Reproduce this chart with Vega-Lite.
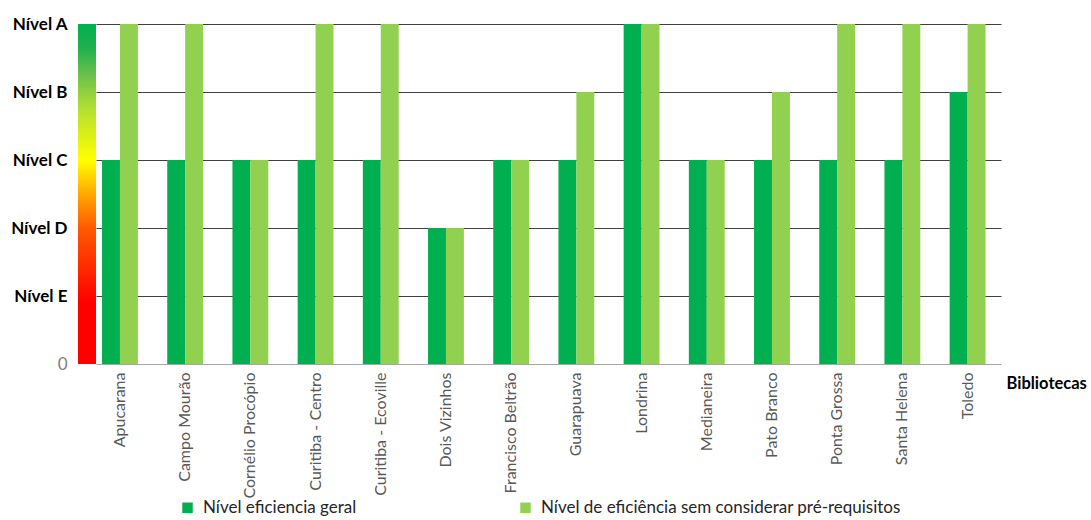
{
  "$schema": "https://vega.github.io/schema/vega-lite/v6.json",
  "padding": {"left": 10, "top": 15, "right": 2, "bottom": 2},
  "background": "white",
  "config": {"font": "Lato", "view": {"stroke": null}, "concat": {"spacing": 0}},
  "datasets": {
    "escala": [{"g": "escala", "nivel": 5}],
    "dados": [
      {"biblioteca": "Apucarana", "serie": "Nível eficiencia geral", "valor": 3},
      {"biblioteca": "Apucarana", "serie": "Nível de eficiência sem considerar pré-requisitos", "valor": 5},
      {"biblioteca": "Campo Mourão", "serie": "Nível eficiencia geral", "valor": 3},
      {"biblioteca": "Campo Mourão", "serie": "Nível de eficiência sem considerar pré-requisitos", "valor": 5},
      {"biblioteca": "Cornélio Procópio", "serie": "Nível eficiencia geral", "valor": 3},
      {"biblioteca": "Cornélio Procópio", "serie": "Nível de eficiência sem considerar pré-requisitos", "valor": 3},
      {"biblioteca": "Curitiba - Centro", "serie": "Nível eficiencia geral", "valor": 3},
      {"biblioteca": "Curitiba - Centro", "serie": "Nível de eficiência sem considerar pré-requisitos", "valor": 5},
      {"biblioteca": "Curitiba - Ecoville", "serie": "Nível eficiencia geral", "valor": 3},
      {"biblioteca": "Curitiba - Ecoville", "serie": "Nível de eficiência sem considerar pré-requisitos", "valor": 5},
      {"biblioteca": "Dois Vizinhos", "serie": "Nível eficiencia geral", "valor": 2},
      {"biblioteca": "Dois Vizinhos", "serie": "Nível de eficiência sem considerar pré-requisitos", "valor": 2},
      {"biblioteca": "Francisco Beltrão", "serie": "Nível eficiencia geral", "valor": 3},
      {"biblioteca": "Francisco Beltrão", "serie": "Nível de eficiência sem considerar pré-requisitos", "valor": 3},
      {"biblioteca": "Guarapuava", "serie": "Nível eficiencia geral", "valor": 3},
      {"biblioteca": "Guarapuava", "serie": "Nível de eficiência sem considerar pré-requisitos", "valor": 4},
      {"biblioteca": "Londrina", "serie": "Nível eficiencia geral", "valor": 5},
      {"biblioteca": "Londrina", "serie": "Nível de eficiência sem considerar pré-requisitos", "valor": 5},
      {"biblioteca": "Medianeira", "serie": "Nível eficiencia geral", "valor": 3},
      {"biblioteca": "Medianeira", "serie": "Nível de eficiência sem considerar pré-requisitos", "valor": 3},
      {"biblioteca": "Pato Branco", "serie": "Nível eficiencia geral", "valor": 3},
      {"biblioteca": "Pato Branco", "serie": "Nível de eficiência sem considerar pré-requisitos", "valor": 4},
      {"biblioteca": "Ponta Grossa", "serie": "Nível eficiencia geral", "valor": 3},
      {"biblioteca": "Ponta Grossa", "serie": "Nível de eficiência sem considerar pré-requisitos", "valor": 5},
      {"biblioteca": "Santa Helena", "serie": "Nível eficiencia geral", "valor": 3},
      {"biblioteca": "Santa Helena", "serie": "Nível de eficiência sem considerar pré-requisitos", "valor": 5},
      {"biblioteca": "Toledo", "serie": "Nível eficiencia geral", "valor": 4},
      {"biblioteca": "Toledo", "serie": "Nível de eficiência sem considerar pré-requisitos", "valor": 5}
    ]
  },
  "hconcat": [
    {
      "width": 18,
      "height": 340,
      "data": {"name": "escala"},
      "mark": {
        "type": "bar",
        "color": {
          "gradient": "linear",
          "x1": 0, "y1": 1, "x2": 0, "y2": 0,
          "stops": [
            {"offset": 0, "color": "#FF0000"},
            {"offset": 0.18, "color": "#FF0000"},
            {"offset": 0.4, "color": "#FF5A00"},
            {"offset": 0.5, "color": "#FFA800"},
            {"offset": 0.6, "color": "#FFFF00"},
            {"offset": 0.75, "color": "#B4E030"},
            {"offset": 0.85, "color": "#6CC04A"},
            {"offset": 0.93, "color": "#1FB050"},
            {"offset": 1, "color": "#00B050"}
          ]
        }
      },
      "encoding": {
        "x": {"field": "g", "type": "nominal", "scale": {"paddingInner": 0, "paddingOuter": 0}, "axis": null},
        "y": {
          "field": "nivel",
          "type": "quantitative",
          "scale": {"domain": [0, 5], "nice": false},
          "axis": {
            "title": null,
            "values": [0, 1, 2, 3, 4, 5],
            "labelExpr": "datum.value == 5 ? 'Nível A' : datum.value == 4 ? 'Nível B' : datum.value == 3 ? 'Nível C' : datum.value == 2 ? 'Nível D' : datum.value == 1 ? 'Nível E' : '0'",
            "grid": false,
            "domain": false,
            "ticks": false,
            "labelPadding": 11,
            "labelFontSize": 17,
            "labelFontWeight": {"condition": {"test": "datum.value == 0", "value": "normal"}, "value": "bold"},
            "labelColor": {"condition": {"test": "datum.value == 0", "value": "#7F7F7F"}, "value": "#000000"}
          }
        }
      }
    },
    {
      "width": 905,
      "height": 340,
      "data": {"name": "dados"},
      "mark": {"type": "bar"},
      "encoding": {
        "x": {
          "field": "biblioteca",
          "type": "nominal",
          "sort": null,
          "scale": {"paddingInner": 0.45, "paddingOuter": 0.165, "align": 0.28},
          "axis": {
            "title": "Bibliotecas",
            "titleFontSize": 16.5,
            "titleFontWeight": "bold",
            "titleColor": "#000000",
            "titleAlign": "left",
            "titleBaseline": "middle",
            "titleAngle": 0,
            "titleX": 910,
            "titleY": 19,
            "labelAngle": -90,
            "labelFont": "Lato",
            "labelFontSize": 16,
            "labelColor": "#595959",
            "labelPadding": 8,
            "labelLimit": 300,
            "ticks": false,
            "domainColor": "#A6A6A6",
            "domainWidth": 1
          }
        },
        "xOffset": {
          "field": "serie",
          "type": "nominal",
          "sort": ["Nível eficiencia geral", "Nível de eficiência sem considerar pré-requisitos"],
          "scale": {"paddingInner": 0, "paddingOuter": 0}
        },
        "y": {
          "field": "valor",
          "type": "quantitative",
          "scale": {"domain": [0, 5], "nice": false},
          "axis": {
            "title": null,
            "values": [0, 1, 2, 3, 4, 5],
            "labels": false,
            "ticks": false,
            "domain": false,
            "grid": true,
            "gridColor": "#404040",
            "gridWidth": 1,
            "gridOpacity": {"condition": {"test": "datum.value == 0", "value": 0}, "value": 1}
          }
        },
        "color": {
          "field": "serie",
          "type": "nominal",
          "sort": ["Nível eficiencia geral", "Nível de eficiência sem considerar pré-requisitos"],
          "scale": {
            "domain": ["Nível eficiencia geral", "Nível de eficiência sem considerar pré-requisitos"],
            "range": ["#00B050", "#92D050"]
          },
          "legend": {
            "orient": "none",
            "legendX": 101,
            "legendY": 475,
            "direction": "horizontal",
            "title": null,
            "labelFontSize": 17,
            "labelColor": "#262626",
            "labelLimit": 500,
            "labelOffset": 7,
            "symbolType": "square",
            "symbolSize": 110,
            "symbolStrokeWidth": 0,
            "columnPadding": 160
          }
        }
      }
    }
  ]
}
